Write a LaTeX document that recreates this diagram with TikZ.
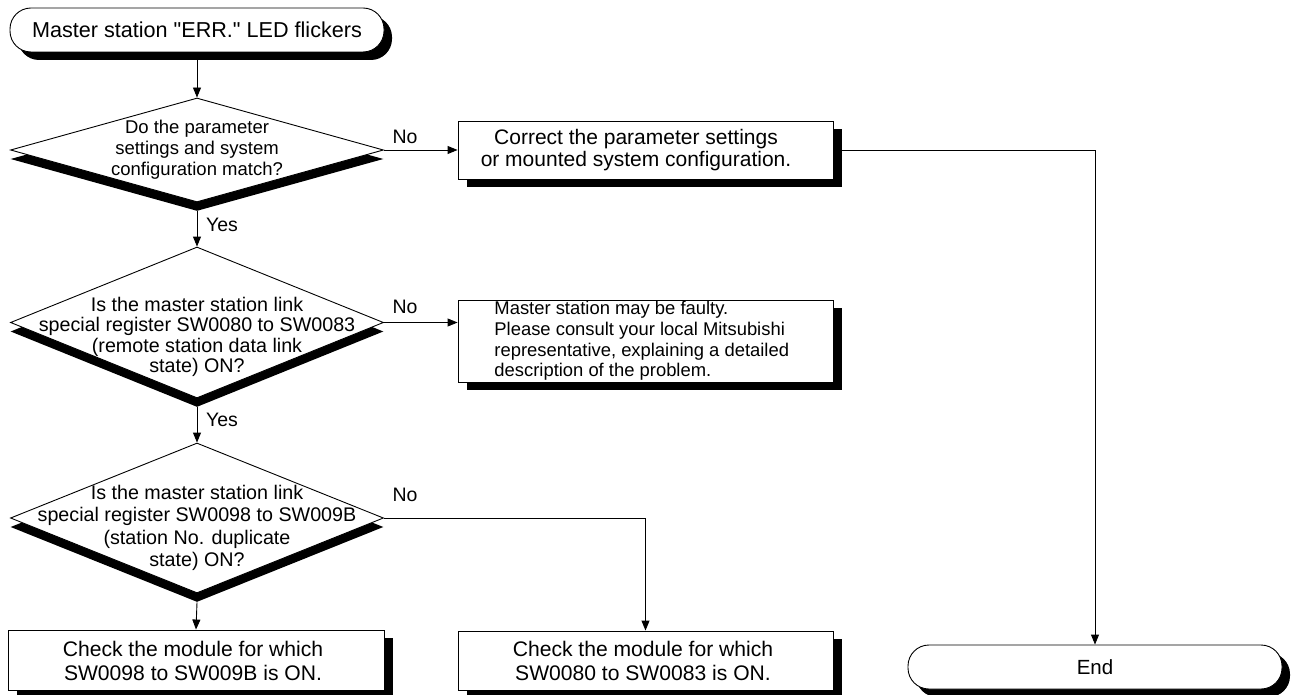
\documentclass[tikz,border=0pt]{standalone}
\usepackage{fontspec}
\setmainfont{Liberation Sans}[Ligatures=TeXOff]
\usetikzlibrary{shapes.geometric,arrows.meta,shadows}
\begin{document}
\begin{tikzpicture}[x=1pt,y=-1pt,
  line width=0.9pt,
  boxshadow/.style={drop shadow={shadow xshift=9pt,shadow yshift=-8pt,fill=black,opacity=1}},
  dshadow/.style={drop shadow={shadow xshift=0pt,shadow yshift=-9pt,fill=black,opacity=1}},
  term/.style={draw,fill=white,rectangle,rounded corners=21pt,minimum width=374pt,minimum height=44pt,inner sep=0pt,
    drop shadow={shadow xshift=8pt,shadow yshift=-8pt,fill=black,opacity=1}},
  dec/.style={draw,fill=white,diamond,inner sep=0pt,minimum width=373pt,dshadow},
  procbox/.style={draw,fill=white,rectangle,inner sep=0pt,boxshadow},
  txt/.style={align=center,inner sep=0pt},
  lbl/.style={inner sep=0pt,font=\fontsize{19.5}{21}\selectfont},
  arr/.style={-{Triangle[length=10pt,width=8pt]}}
]
\useasboundingbox (0,0) rectangle (1292,695);

% start terminal
\node[term,font=\fontsize{21.6}{23}\selectfont] (start) at (197,30) {Master station "ERR." LED flickers};

% decision 1
\node[dec,minimum height=104pt] (d1) at (197,150) {};
\node[txt,font=\fontsize{18.5}{21}\selectfont] (d1t) at (197,150) {Do the parameter\\settings and system\\configuration match?};

% box 1
\node[procbox,minimum width=375pt,minimum height=58pt] (b1) at (645.5,150) {};
\node[txt,font=\fontsize{21}{21.5}\selectfont] (b1t) at (636,150) {Correct the parameter settings\\or mounted system configuration.};

% decision 2
\node[dec,minimum height=151pt] (d2) at (197,322.5) {};
\node[txt,font=\fontsize{19.7}{20.3}\selectfont] (d2t) at (197,337) {Is the master station link\\special register SW0080 to SW0083\\(remote station data link\\state) ON?};

% box 2
\node[procbox,minimum width=375pt,minimum height=82pt] (b2) at (645.5,341) {};
\node[inner sep=0pt,align=left,anchor=west,font=\fontsize{18.4}{20.8}\selectfont] (b2t) at (494,341) {Master station may be faulty.\\Please consult your local Mitsubishi\\representative, explaining a detailed\\description of the problem.};

% decision 3
\node[dec,minimum height=150pt] (d3) at (197,518) {};
\node[txt,font=\fontsize{19.7}{22.5}\selectfont] (d3t) at (197,528) {Is the master station link\\special register SW0098 to SW009B\\(station No. duplicate\\state) ON?};

% box 3
\node[procbox,minimum width=376pt,minimum height=60pt] (b3) at (196,660) {};
\node[txt,font=\fontsize{21.1}{24}\selectfont] (b3t) at (193,661) {Check the module for which\\SW0098 to SW009B is ON.};

% box 4
\node[procbox,minimum width=375pt,minimum height=59pt] (b4) at (645.5,660.5) {};
\node[txt,font=\fontsize{21.1}{24}\selectfont] (b4t) at (643,661) {Check the module for which\\SW0080 to SW0083 is ON.};

% end terminal
\node[term,font=\fontsize{20.5}{22}\selectfont] (end) at (1095,667) {End};

% connectors
\draw[arr] ([yshift=-8pt]start.south) -- (d1.north);
\draw[arr] (d1.east) -- (b1.west);
\draw[arr] ([yshift=-9pt]d1.south) -- (d2.north);
\draw[arr] (d2.east) -- (b2.west |- d2.east);
\draw[arr] ([yshift=-9pt]d2.south) -- (d3.north);
\draw[arr] (d3.east) -| (b4.north);
\draw[arr] ([yshift=-9pt]d3.south) -- (b3.north);
\draw[arr] (b1.east) -| (end.north);

% labels
\node[lbl] (no1) at (405,137) {No};
\node[lbl] (yes1) at (222,225) {Yes};
\node[lbl] (no2) at (405,307) {No};
\node[lbl] (yes2) at (222,420) {Yes};
\node[lbl] (no3) at (405,495) {No};
\end{tikzpicture}
\end{document}
